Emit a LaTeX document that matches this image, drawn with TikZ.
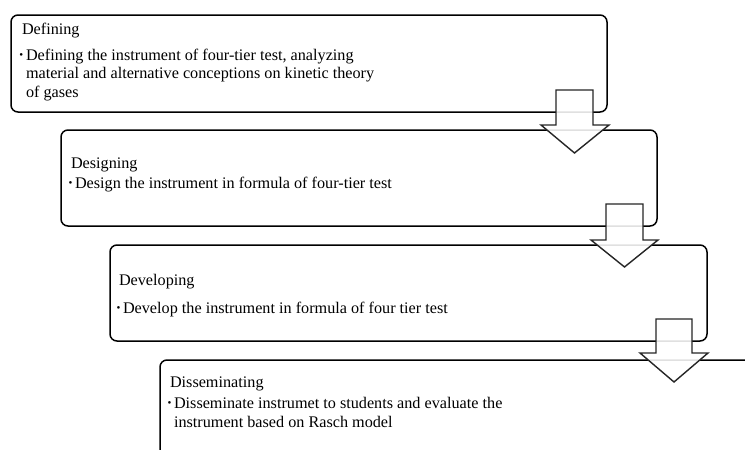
\documentclass[tikz,border=0pt]{standalone}
\usepackage{fontspec}
\setmainfont{Liberation Serif}
\begin{document}
\begin{tikzpicture}[x=1pt,y=-1pt,
  stagebox/.style={draw=black, line width=1.5pt, rounded corners=7pt, fill=white, inner sep=0pt, outer sep=0pt, anchor=north west},
  txt/.style={anchor=base west, inner sep=0pt, outer sep=0pt, font=\fontsize{16.2}{19}\selectfont},
  bul/.style={anchor=base west, inner sep=0pt, outer sep=0pt, font=\fontsize{11}{19}\selectfont},
  blockarrow/.style={draw=black!85, line width=1.4pt, fill=white, fill opacity=0.88, line join=miter}
]
\useasboundingbox (0,0) rectangle (745,450);
\clip (0,0) rectangle (745,450);
% boxes
\node[stagebox, minimum width=596pt, minimum height=97pt] (b1) at (11,15) {};
\node[stagebox, minimum width=596pt, minimum height=96pt] (b2) at (61,130) {};
\node[stagebox, minimum width=597pt, minimum height=96pt] (b3) at (110,245) {};
\node[stagebox, minimum width=620pt, minimum height=120pt] (b4) at (160,360) {};
% texts box 1
\node[txt] (t1) at (22,34) {Defining};
\node[bul] (u1) at (19.5,58) {•};
\node[txt] (t1a) at (26,60) {Defining the instrument of four-tier test, analyzing};
\node[txt] (t1b) at (26,78.5) {material and alternative conceptions on kinetic theory};
\node[txt] (t1c) at (26,97) {of gases};
% box 2
\node[txt] (t2) at (71,168) {Designing};
\node[bul] (u2) at (68.5,186) {•};
\node[txt] (t2a) at (75,188) {Design the instrument in formula of four-tier test};
% box 3
\node[txt] (t3) at (119,285) {Developing};
\node[bul] (u3) at (116.5,311) {•};
\node[txt] (t3a) at (123,313) {Develop the instrument in formula of four tier test};
% box 4
\node[txt] (t4) at (170,387) {Disseminating};
\node[bul] (u4) at (167.5,406) {•};
\node[txt] (t4a) at (174,408) {Disseminate instrumet to students and evaluate the};
\node[txt] (t4b) at (174,427) {instrument based on Rasch model};
% block arrows
\draw[blockarrow] (556,90) -- (593,90) -- (593,125) -- (609,125) -- (574.5,153) -- (541,125) -- (556,125) -- cycle;
\draw[blockarrow] (606,204) -- (643,204) -- (643,240) -- (658,240) -- (624.5,267) -- (591,240) -- (606,240) -- cycle;
\draw[blockarrow] (656,319) -- (692,319) -- (692,353) -- (708,353) -- (674,382) -- (640,353) -- (656,353) -- cycle;
\end{tikzpicture}
\end{document}
